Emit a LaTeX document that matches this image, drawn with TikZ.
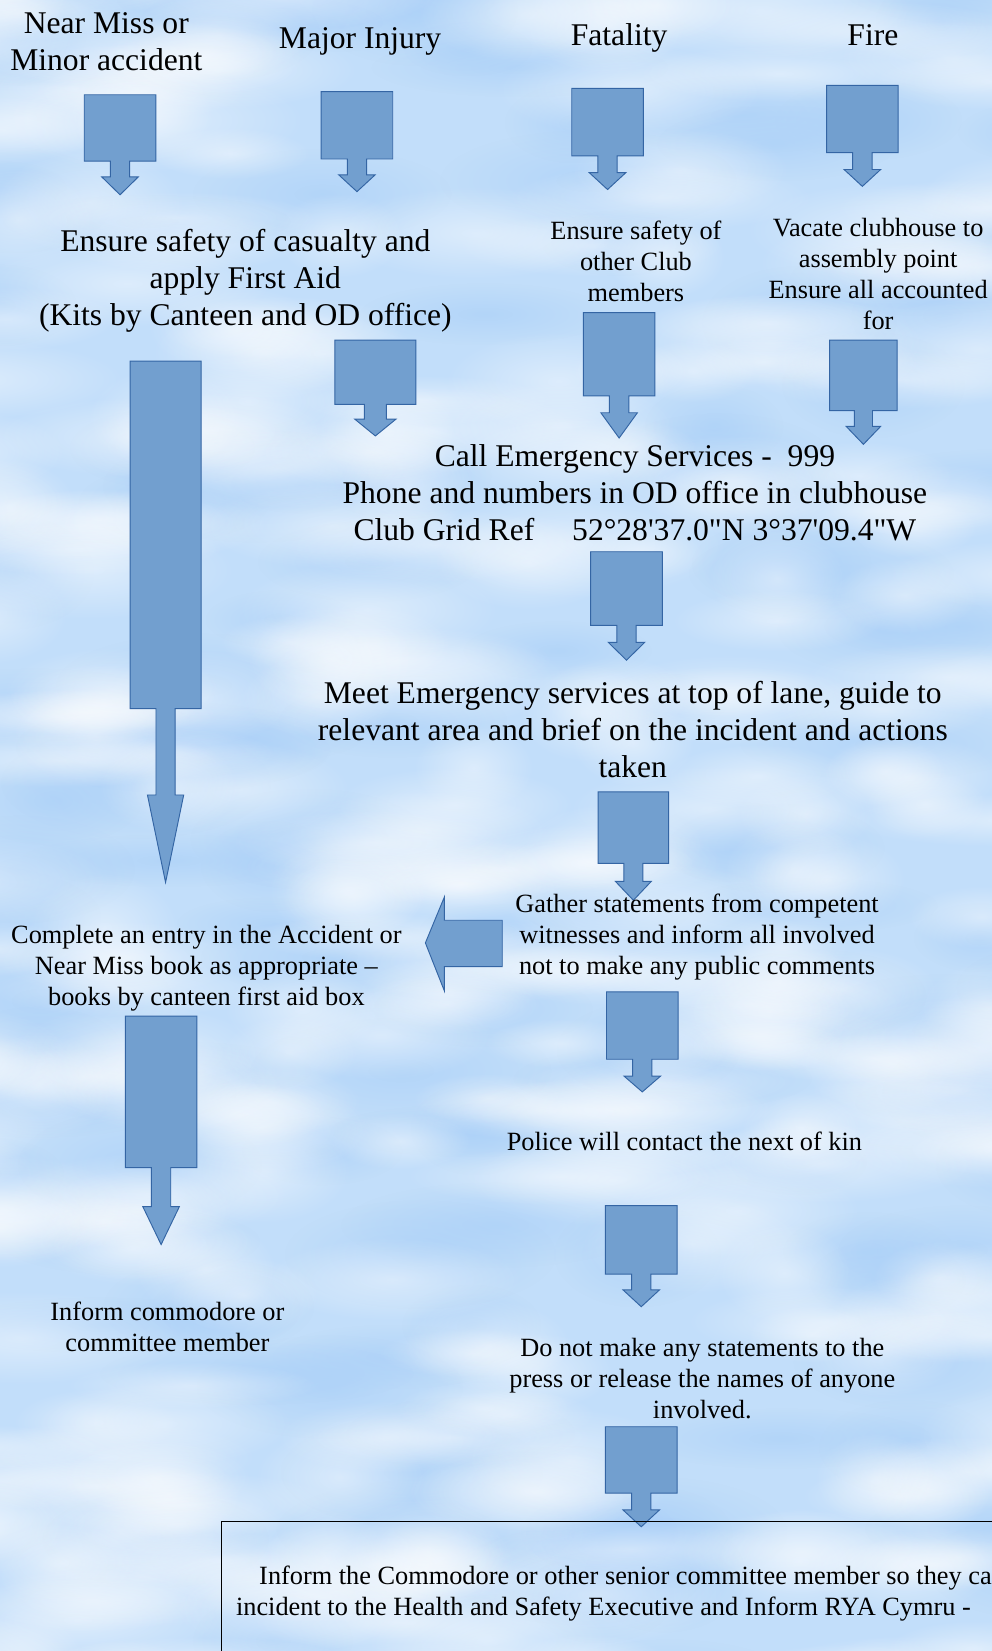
\documentclass[tikz,border=0pt]{standalone}
\usepackage{fontspec}
\newfontfamily\lser{Liberation Serif}
\usetikzlibrary{fadings}
\definecolor{bgbase}{RGB}{194,222,250}
\definecolor{bgdark}{RGB}{170,208,248}
\definecolor{arrowfill}{RGB}{114,159,207}
\definecolor{arrowline}{RGB}{52,101,164}
\tikzfading[name=softblob, inner color=transparent!20, outer color=transparent!100]
\tikzset{
  blockarrow/.style={fill=arrowfill, draw=arrowline, line width=0.9pt, line join=miter},
  bigtext/.style={font=\lser\fontsize{30}{35}\selectfont, align=center, inner sep=0pt, text=black},
  smalltext/.style={font=\lser\fontsize{25}{29.5}\selectfont, align=center, inner sep=0pt, text=black},
  cloudw/.style={fill=white, fill opacity=0.55, path fading=softblob},
  cloudd/.style={fill=bgdark, fill opacity=0.8, path fading=softblob}
}
\newcommand\blockdown[6]{%
  \pgfmathsetmacro\bdc{(#1+#2)/2}%
  \pgfmathsetmacro\bds{0.135*(#2-#1)}%
  \pgfmathsetmacro\bdh{0.255*(#2-#1)}%
  \draw[blockarrow] (#1,#3) -- (#2,#3) -- (#2,#4) -- (\bdc+\bds,#4) -- (\bdc+\bds,#5)
    -- (\bdc+\bdh,#5) -- (\bdc,#6) -- (\bdc-\bdh,#5) -- (\bdc-\bds,#5) -- (\bdc-\bds,#4)
    -- (#1,#4) -- cycle;}
\begin{document}
\begin{tikzpicture}[x=1pt,y=-1pt]
\useasboundingbox (0,0) rectangle (942,1568);
\clip (0,0) rectangle (942,1568);
% sky background
\fill[bgbase] (0,0) rectangle (942,1568);
\pgfmathsetseed{4242}
\foreach \i in {1,...,130}{
  \pgfmathsetmacro\cx{rnd*1040-50}
  \pgfmathsetmacro\cy{rnd*1660-45}
  \pgfmathsetmacro\rx{60+rnd*90}
  \pgfmathsetmacro\ry{25+rnd*30}
  \fill[cloudd] (\cx,\cy) ellipse [x radius=\rx, y radius=\ry];
}
\foreach \i in {1,...,300}{
  \pgfmathsetmacro\cx{rnd*1040-50}
  \pgfmathsetmacro\cy{rnd*1660-45}
  \pgfmathsetmacro\rx{55+rnd*100}
  \pgfmathsetmacro\ry{22+rnd*30}
  \fill[cloudw] (\cx,\cy) ellipse [x radius=\rx, y radius=\ry];
}
% titles
\node[bigtext] (nearmiss) at (101,40) {Near Miss or\\Minor accident};
\node[bigtext] (major) at (342,39) {Major Injury};
\node[bigtext] (fatal) at (588,36) {Fatality};
\node[bigtext] (fire) at (829,33) {Fire};
% row 1 arrows
\blockdown{80}{148}{90}{153}{168}{185}
\blockdown{305}{373}{87}{151}{166}{182}
\blockdown{543}{611}{84}{148}{164}{180}
\blockdown{785}{853}{81}{145}{161}{177}
% row 2 texts
\node[bigtext] (firstaid) at (233,267) {Ensure safety of casualty and\\apply First Aid\\(Kits by Canteen and OD office)};
\node[smalltext] (others) at (604,248.5) {Ensure safety of\\other Club\\members};
\node[smalltext] (vacate) at (834,260) {Vacate clubhouse to\\assembly point\\Ensure all accounted\\for};
% row 2 arrows
\blockdown{318}{395}{323}{384}{398}{414}
\blockdown{554}{622}{297}{376}{392}{416}
\blockdown{788}{852}{323}{390}{405}{422}
\blockdown{123.5}{191}{343}{673}{755}{838}
% call
\node[bigtext] (call) at (603,468) {Call Emergency Services -\ \ 999\\Phone and numbers in OD office in clubhouse\\Club Grid Ref\hspace{36pt}52°28'37.0"N 3°37'09.4"W};
\blockdown{561}{629}{524}{594}{610}{627}
\node[bigtext] (meet) at (601,693) {Meet Emergency services at top of lane, guide to\\relevant area and brief on the incident and actions\\taken};
\blockdown{568}{635}{752}{820}{837}{855}
\node[smalltext] (gather) at (662,890) {Gather statements from competent\\witnesses and inform all involved\\not to make any public comments};
\node[smalltext] (complete) at (196,919.5) {Complete an entry in the Accident or\\Near Miss book as appropriate –\\books by canteen first aid box};
% left arrow
\draw[blockarrow] (477,874) -- (477,918) -- (422,918) -- (422,941) -- (404,895.5) -- (422,852) -- (422,874) -- cycle;
% lower arrows
\blockdown{119}{187}{965}{1109}{1146}{1182}
\blockdown{576}{644}{942}{1006}{1022}{1037}
\node[smalltext] (police) at (650,1084) {Police will contact the next of kin};
\blockdown{575}{643}{1145}{1210}{1225}{1241}
\node[smalltext] (commodore) at (159,1260) {Inform commodore or\\committee member};
\node[smalltext] (press) at (667,1309.5) {Do not make any statements to the\\press or release the names of anyone\\involved.};
\blockdown{575}{643}{1355}{1418}{1434}{1450}
% bottom box
\draw[black, line width=0.9pt] (210,1445) rectangle (960,1600);
\node[smalltext, align=left, anchor=west] (report) at (224,1513) {\hspace*{22pt}Inform the Commodore or other senior committee member so they ca\\incident to the Health and Safety Executive and Inform RYA Cymru -};
\end{tikzpicture}
\end{document}
